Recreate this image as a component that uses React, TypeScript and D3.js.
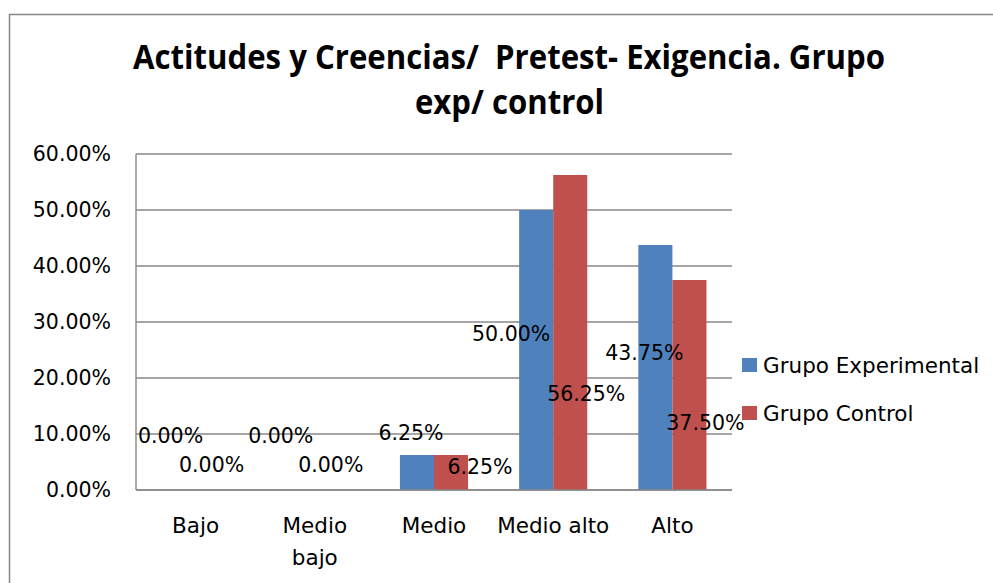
import React from "react";
import * as d3 from "d3";

const categories = ["Bajo", "Medio bajo", "Medio", "Medio alto", "Alto"];
const seriesNames = ["Grupo Experimental", "Grupo Control"];
const experimental = [0, 0, 0.0625, 0.5, 0.4375];
const control = [0, 0, 0.0625, 0.5625, 0.375];
const yTicks = [0, 0.1, 0.2, 0.3, 0.4, 0.5, 0.6];
const titleLines = ["Actitudes y Creencias/  Pretest- Exigencia. Grupo", "exp/ control"];

// label placement (dx from bar centre, dy from bar top) as laid out in the original
const expLabelNudge = [[-8, -47], [-17, -47], [-6, -15], [-25, 131], [-11, 115]];
const ctlLabelNudge = [[-1, -18], [-1, -18], [29, 19], [16, 226], [16, 150]];

const COLORS = ["#4F81BD", "#C0504D"];
const FONT = "'DejaVu Sans', Verdana, sans-serif";
const FS = 20.5;
const FS_TXT = 21.5;

export default function App() {
  const W = 993, H = 583;
  const plot = { left: 136, right: 732, top: 154, bottom: 490 };
  const gap = 1.5; // Excel gap width 150%
  const p = gap / (2 + gap);
  const x0 = d3.scaleBand<string>().domain(categories).range([plot.left, plot.right]).paddingInner(p).paddingOuter(p / 2);
  const x1 = d3.scaleBand<string>().domain(seriesNames).range([0, x0.bandwidth()]);
  const y = d3.scaleLinear().domain([0, 0.6]).range([plot.bottom, plot.top]);
  const fmt = (v: number) => (v * 100).toFixed(2) + "%";
  const series = [experimental, control];
  const nudges = [expLabelNudge, ctlLabelNudge];
  const catLines = categories.map((c) => (c === "Medio bajo" ? ["Medio", "bajo"] : [c]));

  return (
    <svg width={W} height={H} style={{ position: "absolute", left: 0, top: 0, display: "block" }} fontFamily={FONT}>
      <rect x={0} y={0} width={W} height={H} fill="#fff" />
      <rect x={9.5} y={14.5} width={1100} height={700} fill="none" stroke="#878787" strokeWidth={1.5} />
      {/* title */}
      <text x={509} y={69} textAnchor="middle" fontFamily="'Open Sans', sans-serif" fontWeight="bold" fontSize={34}
        textLength={752} lengthAdjust="spacingAndGlyphs" style={{ whiteSpace: "pre" }}>{titleLines[0]}</text>
      <text x={509.5} y={114} textAnchor="middle" fontFamily="'Open Sans', sans-serif" fontWeight="bold" fontSize={34}
        textLength={189} lengthAdjust="spacingAndGlyphs">{titleLines[1]}</text>
      {/* gridlines */}
      {yTicks.map((t) => (
        <line key={t} x1={plot.left} x2={plot.right} y1={y(t)} y2={y(t)} stroke="#888" strokeWidth={1.4} />
      ))}
      <line x1={plot.left} x2={plot.left} y1={plot.top} y2={plot.bottom} stroke="#888" strokeWidth={1.4} />
      {/* y tick labels */}
      {yTicks.map((t) => (
        <text key={t} x={111} y={y(t)} dy="0.36em" textAnchor="end" fontSize={FS} fill="#000">{fmt(t)}</text>
      ))}
      {/* bars */}
      {series.map((vals, si) =>
        vals.map((v, ci) => (
          <rect key={si + "-" + ci} x={(x0(categories[ci]) as number) + (x1(seriesNames[si]) as number)}
            y={y(v)} width={x1.bandwidth()} height={plot.bottom - y(v)} fill={COLORS[si]} />
        ))
      )}
      <line x1={plot.left} x2={plot.right} y1={plot.bottom} y2={plot.bottom} stroke="#888" strokeWidth={1.4} />
      {/* data labels */}
      {series.map((vals, si) =>
        vals.map((v, ci) => {
          const cx = (x0(categories[ci]) as number) + (x1(seriesNames[si]) as number) + x1.bandwidth() / 2;
          const [dx, dy] = nudges[si][ci];
          return (
            <text key={"l" + si + "-" + ci} x={cx + dx} y={y(v) + dy} textAnchor="middle" fontSize={FS} fill="#000">
              {fmt(v)}
            </text>
          );
        })
      )}
      {/* category labels */}
      {categories.map((c, ci) => {
        const cx = (x0(c) as number) + x0.bandwidth() / 2;
        return (
          <text key={c} x={cx} y={533} textAnchor="middle" fontSize={FS_TXT} fill="#000">
            {catLines[ci].map((ln, li) => (
              <tspan key={li} x={cx} dy={li === 0 ? 0 : 32}>{ln}</tspan>
            ))}
          </text>
        );
      })}
      {/* legend */}
      {seriesNames.map((s, si) => (
        <g key={s} transform={`translate(742, ${358 + si * 48})`}>
          <rect x={0} y={0} width={15} height={14} fill={COLORS[si]} />
          <text x={21} y={15} fontSize={FS_TXT} fill="#000">{s}</text>
        </g>
      ))}
    </svg>
  );
}
